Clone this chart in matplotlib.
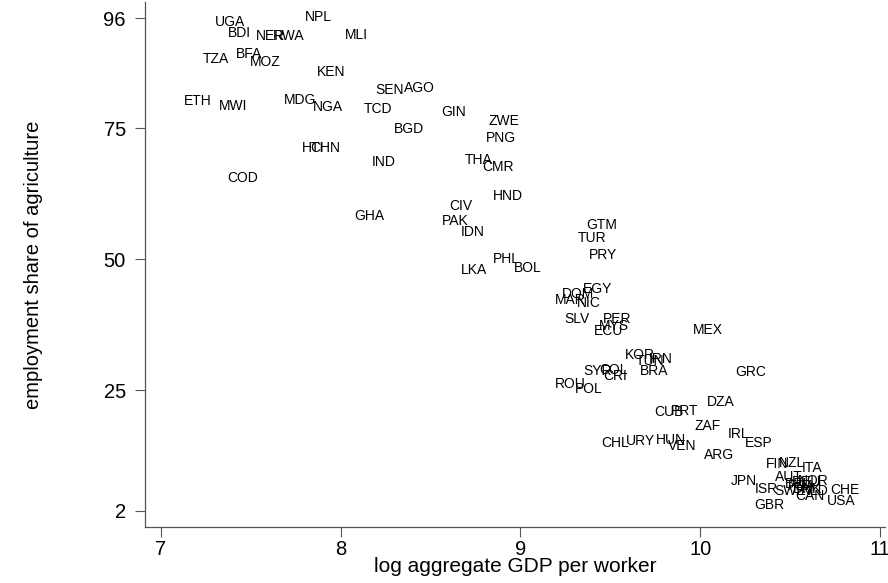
import numpy as np
import matplotlib.pyplot as plt

plt.rcParams['font.family'] = ['Liberation Sans', 'DejaVu Sans']

# country codes, log GDP per worker, agricultural employment share
countries = ['UGA', 'NPL', 'BDI', 'NER', 'RWA', 'MLI', 'TZA', 'BFA', 'MOZ', 'KEN',
             'ETH', 'MWI', 'MDG', 'NGA', 'SEN', 'AGO', 'TCD', 'GIN', 'BGD', 'ZWE',
             'PNG', 'HTI', 'CHN', 'IND', 'THA', 'CMR', 'COD', 'HND', 'GHA', 'CIV',
             'PAK', 'IDN', 'GTM', 'TUR', 'PRY', 'PHL', 'BOL', 'LKA', 'EGY', 'DOM',
             'MAR', 'NIC', 'SLV', 'PER', 'MYS', 'ECU', 'MEX', 'KOR', 'TUN', 'IRN',
             'SYR', 'COL', 'CRI', 'BRA', 'GRC', 'ROU', 'POL', 'DZA', 'CUB', 'PRT',
             'ZAF', 'IRL', 'ESP', 'CHL', 'URY', 'HUN', 'VEN', 'ARG', 'FIN', 'NZL',
             'ITA', 'AUT', 'NOR', 'BEL', 'DEU', 'FRA', 'DNK', 'JPN', 'ISR', 'SWE',
             'NLD', 'CAN', 'CHE', 'USA', 'GBR']
log_gdp = [7.384, 7.875, 7.435, 7.607, 7.713, 8.086, 7.306, 7.490, 7.580, 7.947,
           7.206, 7.400, 7.774, 7.930, 8.270, 8.437, 8.209, 8.627, 8.382, 8.911,
           8.889, 7.847, 7.914, 8.237, 8.766, 8.877, 7.457, 8.928, 8.159, 8.666,
           8.638, 8.733, 9.451, 9.396, 9.462, 8.922, 9.039, 8.744, 9.429, 9.323,
           9.279, 9.379, 9.312, 9.540, 9.518, 9.490, 10.042, 9.663, 9.719, 9.780,
           9.429, 9.518, 9.529, 9.741, 10.281, 9.279, 9.379, 10.114, 9.825, 9.914,
           10.042, 10.214, 10.326, 9.529, 9.669, 9.836, 9.902, 10.103, 10.426, 10.510,
           10.621, 10.493, 10.630, 10.545, 10.590, 10.565, 10.595, 10.242, 10.370, 10.499,
           10.640, 10.610, 10.805, 10.783, 10.382]
agri_share = [95.2, 96.2, 93.1, 92.6, 92.6, 92.8, 88.1, 89.2, 87.6, 85.7,
              80.1, 79.2, 80.3, 79.0, 82.2, 82.6, 78.7, 78.0, 74.9, 76.3,
              73.2, 71.2, 71.2, 68.5, 68.9, 67.5, 65.4, 62.0, 58.2, 60.1,
              57.2, 55.1, 56.5, 54.1, 50.7, 50.0, 48.4, 48.0, 44.4, 43.3,
              42.3, 41.6, 38.6, 38.5, 37.3, 36.2, 36.5, 31.7, 30.5, 31.0,
              28.7, 28.9, 27.8, 28.6, 28.5, 26.1, 25.2, 22.8, 20.9, 21.1,
              18.1, 16.6, 14.9, 15.0, 15.4, 15.5, 14.4, 12.7, 10.9, 11.2,
              10.2, 8.4, 7.7, 7.2, 7.5, 6.8, 6.2, 7.7, 6.1, 5.7,
              5.7, 4.9, 6.0, 3.8, 3.1]

yticks = [2, 25, 50, 75, 96]
xticks = [7, 8, 9, 10, 11]

fig = plt.figure(figsize=(8.88, 5.83), dpi=100)
ax = fig.add_axes([0.163, 0.096, 0.834, 0.901])

for c, x, y in zip(countries, log_gdp, agri_share):
    ax.text(x, y, c, ha='center', va='center', fontsize=10, color='black')

ax.set_xlim(6.91, 11.03)
ax.set_ylim(-1.1, 99.1)
ax.set_xticks(xticks)
ax.set_yticks(yticks)
ax.tick_params(axis='both', direction='out', length=7.5, width=0.8, color='#555555', labelsize=14.5)
ax.tick_params(axis='y', pad=6)
ax.tick_params(axis='x', pad=2)
for s in ['top', 'right']:
    ax.spines[s].set_visible(False)
for s in ['left', 'bottom']:
    ax.spines[s].set_color('#555555')
    ax.spines[s].set_linewidth(0.9)

ax.set_xlabel('log aggregate GDP per worker', fontsize=15)
ax.set_ylabel('employment share of agriculture', fontsize=14.5)
ax.xaxis.set_label_coords(0.5, -0.058)
ax.xaxis.label.set_va('top')
ax.yaxis.set_label_coords(-0.137, 0.5)

fig.savefig('out.png', dpi=100)
